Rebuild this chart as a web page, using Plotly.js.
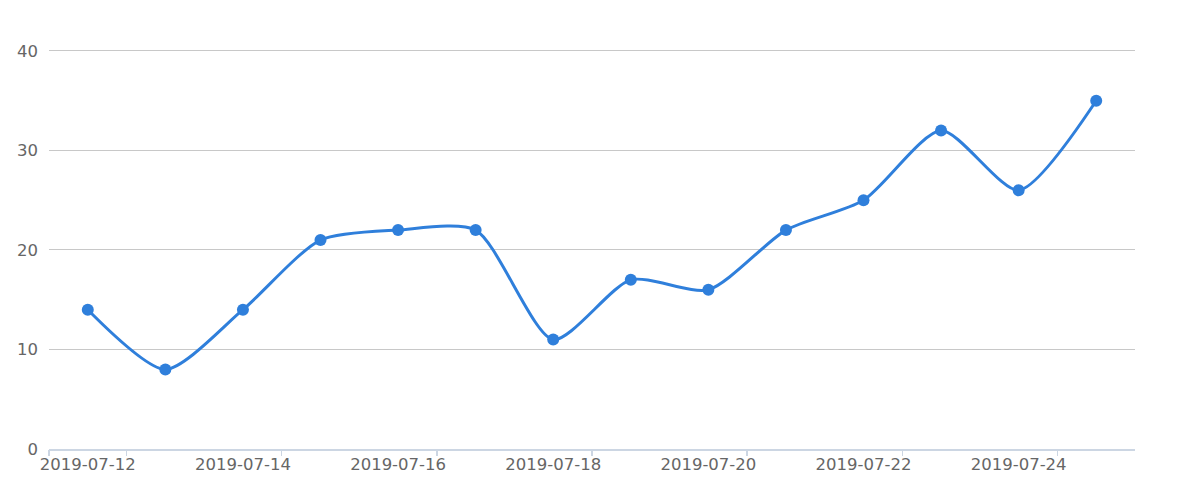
<!DOCTYPE html>
<html>
<head>
<meta charset="utf-8">
<script src="https://cdn.plot.ly/plotly-3.0.1.min.js"></script>
<style>html,body{margin:0;padding:0;background:#fff;}#chart{width:1200px;height:500px;}</style>
</head>
<body>
<div id="chart"></div>
<script>
const dates = ["2019-07-12","2019-07-13","2019-07-14","2019-07-15","2019-07-16","2019-07-17","2019-07-18","2019-07-19","2019-07-20","2019-07-21","2019-07-22","2019-07-23","2019-07-24","2019-07-25"];
const values = [14, 8, 14, 21, 22, 22, 11, 17, 16, 22, 25, 32, 26, 35];
const yTicks = [0, 10, 20, 30, 40];

// labels on every other category; ticks on the boundaries after each labelled category
const idx = dates.map((d, i) => i);
const labelVals = dates.filter((d, i) => i % 2 === 0);
const boundaryVals = [-0.5].concat(idx.filter(i => i % 2 === 0).map(i => i + 0.5));

const fontFam = "DejaVu Sans, Verdana, sans-serif";
const blue = '#2f7fdb';
const trace = {
  x: dates, y: values, type: 'scatter', mode: 'lines+markers',
  line: {shape: 'spline', smoothing: 0.7, color: blue, width: 3},
  marker: {size: 12, color: blue},
  hoverinfo: 'x+y', xaxis: 'x', yaxis: 'y'
};
// invisible carrier trace so the tick-only overlay axis is drawn
const carrier = {
  x: idx, y: values, type: 'scatter', mode: 'none',
  hoverinfo: 'skip', xaxis: 'x2', yaxis: 'y', showlegend: false
};
const layout = {
  width: 1200, height: 500,
  margin: {l: 49, r: 65, t: 46, b: 51},
  paper_bgcolor: '#fff', plot_bgcolor: '#fff',
  showlegend: false,
  font: {family: fontFam, size: 16, color: '#666'},
  xaxis: {
    type: 'category', range: [-0.5, dates.length - 0.5],
    tickvals: labelVals, ticktext: labelVals,
    showgrid: false, zeroline: false, ticks: '', ticklen: 0,
    showline: true, linecolor: '#ccd6e3', linewidth: 1.5,
    tickfont: {family: fontFam, size: 16.5, color: '#666'}
  },
  xaxis2: {
    overlaying: 'x', anchor: 'y', side: 'bottom', type: 'linear',
    range: [-0.5, dates.length - 0.5],
    tickmode: 'array', tickvals: boundaryVals, showticklabels: false,
    ticks: 'outside', ticklen: 6, tickwidth: 1.5, tickcolor: '#ccd6e3',
    showgrid: false, zeroline: false, showline: false
  },
  yaxis: {
    range: [0, 40.5], tickvals: yTicks, ticktext: yTicks.map(String),
    showgrid: true, gridcolor: '#c8c8c8', gridwidth: 1,
    zeroline: false, showline: false, ticks: '', ticklabelstandoff: 10,
    tickfont: {family: fontFam, size: 16.5, color: '#666'}
  }
};
Plotly.newPlot('chart', [carrier, trace], layout, {displayModeBar: false, staticPlot: true});
</script>
</body>
</html>
